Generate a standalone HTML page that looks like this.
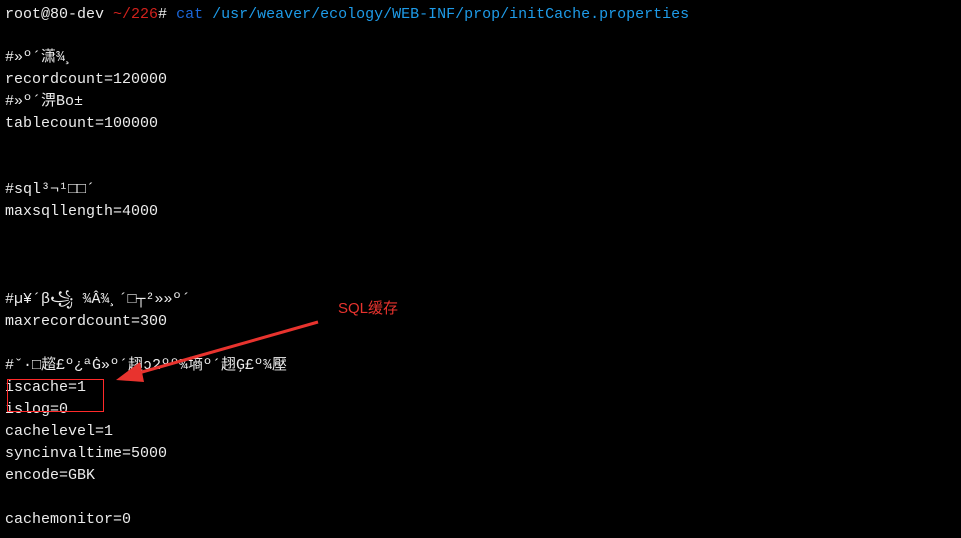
<!DOCTYPE html>
<html><head><meta charset="utf-8">
<style>
html,body{margin:0;padding:0;background:#000;width:961px;height:538px;overflow:hidden;position:relative}
.l{position:absolute;left:5px;height:22px;line-height:22px;font-family:"Liberation Mono","Noto Sans CJK SC",monospace;font-size:15px;color:#ececec;white-space:pre}
.r{color:#d0211c}.b{color:#1a66d9}.c{color:#1e9be8}
</style></head><body>
<div class="l" style="top:4px">root@80-dev <span class="r">~/226</span># <span class="b">cat</span> <span class="c">/usr/weaver/ecology/WEB-INF/prop/initCache.properties</span></div>
<div class="l" style="top:47px">#»º´潇¾¸</div>
<div class="l" style="top:69px">recordcount=120000</div>
<div class="l" style="top:91px">#»º´淠Bo±</div>
<div class="l" style="top:113px">tablecount=100000</div>
<div class="l" style="top:179px">#sql³¬¹□□´</div>
<div class="l" style="top:201px">maxsqllength=4000</div>
<div class="l" style="top:289px">#µ¥´β꧁ ¾Â¾¸´□┬²»»º´</div>
<div class="l" style="top:311px">maxrecordcount=300</div>
<div class="l" style="top:355px">#ˇ·□趦£º¿ªĠ»º´趐ↄ2ºº¾墒º´趐Ģ£º¾壓</div>
<div class="l" style="top:377px">iscache=1</div>
<div class="l" style="top:399px">islog=0</div>
<div class="l" style="top:421px">cachelevel=1</div>
<div class="l" style="top:443px">syncinvaltime=5000</div>
<div class="l" style="top:465px">encode=GBK</div>
<div class="l" style="top:509px">cachemonitor=0</div>
<div style="position:absolute;left:7px;top:379px;width:95px;height:31px;border:1px solid #ff2a2a"></div>
<div style="position:absolute;left:338px;top:297px;font-family:'Liberation Sans','Noto Sans CJK SC',sans-serif;font-size:15px;color:#e8332e">SQL缓存</div>
<svg width="961" height="538" style="position:absolute;left:0;top:0">
<line x1="318" y1="322" x2="135" y2="374" stroke="#e8332e" stroke-width="3"/>
<polygon points="116,380 140,362 144,382" fill="#e8332e"/>
</svg>
</body></html>
